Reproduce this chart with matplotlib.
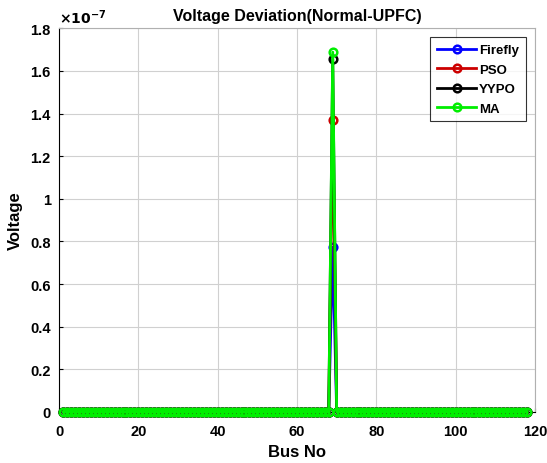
import numpy as np
import matplotlib.pyplot as plt
from matplotlib.ticker import FuncFormatter

plt.rcParams['font.family'] = ['Liberation Sans', 'DejaVu Sans']
plt.rcParams['font.weight'] = 'bold'

# IEEE 118-bus system, deviation non-zero only at bus 69
buses = np.arange(1, 119)
peak_bus = 69
peak_values = {
    'Firefly': 0.773e-7,
    'PSO': 1.369e-7,
    'YYPO': 1.655e-7,
    'MA': 1.688e-7,
}
series_names = ['Firefly', 'PSO', 'YYPO', 'MA']
series_colors = ['#0000ff', '#cc0000', '#000000', '#00ee00']
scale = 1e-7

fig = plt.figure(figsize=(5.47, 4.64), dpi=100)
ax = fig.add_axes([0.108, 0.110, 0.870, 0.827])

for name, color in zip(series_names, series_colors):
    y = np.zeros_like(buses, dtype=float)
    y[buses == peak_bus] = peak_values[name]
    ax.plot(buses, y, '-o', color=color, lw=2, ms=5.5,
            mfc='none', mew=1.8, label=name, clip_on=False, zorder=3)

ax.set_xlim(0, 120)
ax.set_ylim(0, 1.8 * scale)
ax.set_xticks(np.arange(0, 121, 20))
ax.set_yticks(np.arange(0, 1.81, 0.2) * scale)
ax.yaxis.set_major_formatter(FuncFormatter(lambda v, p: f'{v / scale:g}'))
ax.text(0.0, 1.005, r'$\times10^{-7}$', transform=ax.transAxes,
        fontsize=10, ha='left', va='bottom')

ax.grid(True, color='#d0d0d0', lw=0.8)
ax.tick_params(direction='in', labelsize=10.5, length=3)
ax.tick_params(axis='x', pad=9)
ax.tick_params(axis='y', pad=6)
for lbl in ax.get_xticklabels() + ax.get_yticklabels():
    lbl.set_fontweight('bold')
for side in ['top', 'right']:
    ax.spines[side].set_color('#b0b0b0')
for side in ['left', 'bottom']:
    ax.spines[side].set_color('#000000')

ax.set_title('Voltage Deviation(Normal-UPFC)', fontsize=11.5, fontweight='bold')
ax.set_xlabel('Bus No', fontsize=12, fontweight='bold', labelpad=4)
ax.set_ylabel('Voltage', fontsize=12, fontweight='bold', labelpad=5)

leg = ax.legend(loc='upper right', fontsize=9.5, frameon=True, fancybox=False,
                edgecolor='#000000', handlelength=3.0, borderaxespad=0.7,
                labelspacing=0.55, handletextpad=0.2, borderpad=0.5)
leg.get_frame().set_linewidth(0.8)
for t in leg.get_texts():
    t.set_fontweight('bold')

fig.savefig('out.png', dpi=100)
